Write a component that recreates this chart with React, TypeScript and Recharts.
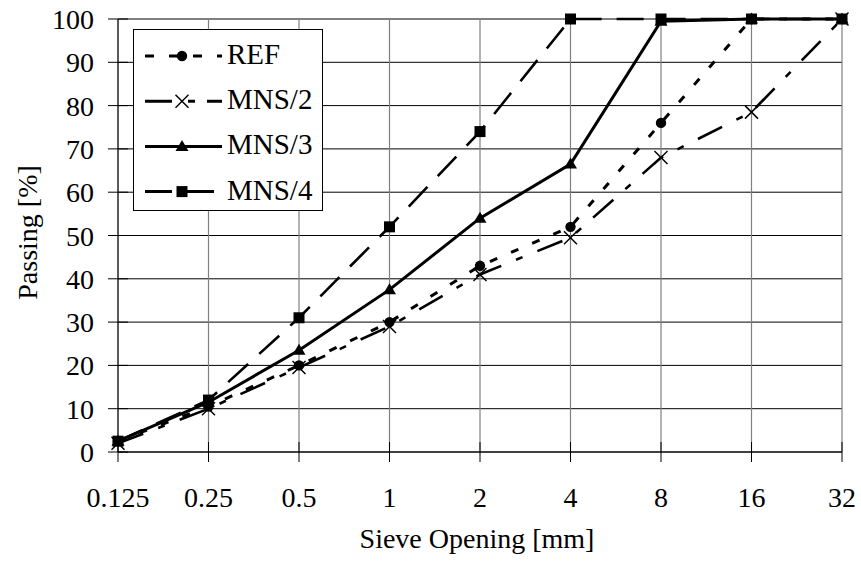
import React from 'react';
import { LineChart, Line, XAxis, YAxis, CartesianGrid, Legend } from 'recharts';

// Sieve openings [mm] along the horizontal axis
const sieveSizes = ['0.125', '0.25', '0.5', '1', '2', '4', '8', '16', '32'];

// Cumulative passing [%] for each mix
const refPassing = [2.5, 10.5, 20, 30, 43, 52, 76, 100, 100];
const mns2Passing = [2, 10, 19.5, 29, 41, 49.5, 68, 78.5, 100];
const mns3Passing = [2.5, 11.5, 23.5, 37.5, 54, 66.5, 99.5, 100, 100];
const mns4Passing = [2.5, 12, 31, 52, 74, 100, 100, 100, 100];

const yTicks = [0, 10, 20, 30, 40, 50, 60, 70, 80, 90, 100];

const FONT = "'Liberation Serif', 'Times New Roman', serif";
const AXIS_FONT_SIZE = 28;
const LEGEND_FONT_SIZE = 29;

type Shape = 'circle' | 'cross' | 'triangle' | 'square';

const seriesList: { key: string; name: string; shape: Shape; dash?: string; legendDash?: string; width: number }[] = [
  { key: 'ref', name: 'REF', shape: 'circle', dash: '8 15', legendDash: '9 15', width: 3 },
  { key: 'mns2', name: 'MNS/2', shape: 'cross', dash: '27 16 7 16', legendDash: '27 16 7 12', width: 2.6 },
  { key: 'mns3', name: 'MNS/3', shape: 'triangle', width: 3 },
  { key: 'mns4', name: 'MNS/4', shape: 'square', dash: '27 15', legendDash: '27 15', width: 2.6 },
];

const data = sieveSizes.map((size, i) => ({
  size,
  ref: refPassing[i],
  mns2: mns2Passing[i],
  mns3: mns3Passing[i],
  mns4: mns4Passing[i],
}));

function Marker({ shape, cx, cy }: { shape: Shape; cx: number; cy: number }) {
  if (cx == null || cy == null) return <g />;
  switch (shape) {
    case 'circle':
      return <circle cx={cx} cy={cy} r={5.2} fill="#000" />;
    case 'cross':
      return (
        <g stroke="#000" strokeWidth={1.5}>
          <line x1={cx - 6.5} y1={cy - 6.5} x2={cx + 6.5} y2={cy + 6.5} />
          <line x1={cx - 6.5} y1={cy + 6.5} x2={cx + 6.5} y2={cy - 6.5} />
        </g>
      );
    case 'triangle':
      return (
        <polygon
          points={`${cx},${cy - 6.5} ${cx - 6.5},${cy + 4.5} ${cx + 6.5},${cy + 4.5}`}
          fill="#000"
        />
      );
    case 'square':
    default:
      return <rect x={cx - 5.5} y={cy - 5.5} width={11} height={11} fill="#000" />;
  }
}

const YTick = (props: any) => {
  const { x, y, payload } = props;
  return (
    <g>
      <line x1={x - 10} x2={x + 10} y1={y} y2={y} stroke="#000" strokeWidth={1} />
      <text x={x - 24} y={y + 10} textAnchor="end" fontFamily={FONT} fontSize={AXIS_FONT_SIZE} fill="#000">
        {payload.value}
      </text>
    </g>
  );
};

const XTick = (props: any) => {
  const { x, y, payload } = props;
  return (
    <g>
      <line x1={x} x2={x} y1={y - 10} y2={y + 10} stroke="#000" strokeWidth={1} />
      <text x={x} y={y + 55} textAnchor="middle" fontFamily={FONT} fontSize={AXIS_FONT_SIZE} fill="#000">
        {payload.value}
      </text>
    </g>
  );
};

const YTitle = (props: any) => {
  const vb = props.viewBox || { x: 0, y: 0, width: 0, height: 0 };
  const cx = vb.x + 37;
  const cy = vb.y + vb.height / 2 - 3;
  return (
    <text
      x={cx}
      y={cy}
      transform={`rotate(-90, ${cx}, ${cy})`}
      textAnchor="middle"
      fontFamily={FONT}
      fontSize={AXIS_FONT_SIZE}
      fill="#000"
    >
      Passing [%]
    </text>
  );
};

const XTitle = (props: any) => {
  const vb = props.viewBox || { x: 0, y: 0, width: 0, height: 0 };
  return (
    <text
      x={vb.x + vb.width / 2 - 3}
      y={vb.y + 96}
      textAnchor="middle"
      fontFamily={FONT}
      fontSize={AXIS_FONT_SIZE}
      fill="#000"
    >
      Sieve Opening [mm]
    </text>
  );
};

const LegendBox = () => (
  <svg width={191} height={182} style={{ display: 'block' }}>
    <rect x={0.5} y={0.5} width={189} height={181} fill="#fff" stroke="#000" strokeWidth={1} />
    {seriesList.map((s, i) => {
      const cy = 27 + i * 45.2;
      return (
        <g key={s.key}>
          <line
            x1={12}
            x2={89}
            y1={cy}
            y2={cy}
            stroke="#000"
            strokeWidth={3}
            strokeDasharray={s.legendDash}
          />
          <Marker shape={s.shape} cx={49} cy={cy} />
          <text x={94} y={cy + 8} fontFamily={FONT} fontSize={LEGEND_FONT_SIZE} fill="#000">
            {s.name}
          </text>
        </g>
      );
    })}
  </svg>
);

export default function App() {
  return (
    <div style={{ position: 'absolute', left: 0, top: 0, width: 861, height: 562, background: '#fff' }}>
      <LineChart
        width={861}
        height={562}
        data={data}
        margin={{ top: 19, right: 19, left: 0, bottom: 0 }}
      >
        <CartesianGrid vertical={false} stroke="#000" strokeWidth={1} />
        <CartesianGrid horizontal={false} stroke="#808080" strokeWidth={1.2} />
        <XAxis
          dataKey="size"
          type="category"
          height={110}
          tickSize={0}
          tickMargin={0}
          tickLine={false}
          axisLine={{ stroke: '#000', strokeWidth: 1 }}
          tick={<XTick />}
          interval={0}
          label={<XTitle />}
        />
        <YAxis
          width={118}
          domain={[0, 100]}
          ticks={yTicks}
          interval={0}
          tickSize={0}
          tickMargin={0}
          tickLine={false}
          axisLine={{ stroke: '#000', strokeWidth: 1 }}
          tick={<YTick />}
          label={<YTitle />}
        />
        <Legend
          layout="horizontal"
          verticalAlign="middle"
          align="center"
          content={<LegendBox />}
          wrapperStyle={{ position: 'absolute', left: 133, top: 29, width: 191, height: 182, margin: 0, padding: 0 }}
        />
        {seriesList.map((s) => (
          <Line
            key={s.key}
            dataKey={s.key}
            name={s.name}
            type="linear"
            stroke="#000"
            strokeWidth={s.width}
            strokeDasharray={s.dash}
            isAnimationActive={false}
            activeDot={false}
            dot={(p: any) => <Marker key={`${s.key}-${p.index}`} shape={s.shape} cx={p.cx} cy={p.cy} />}
          />
        ))}
      </LineChart>
    </div>
  );
}
